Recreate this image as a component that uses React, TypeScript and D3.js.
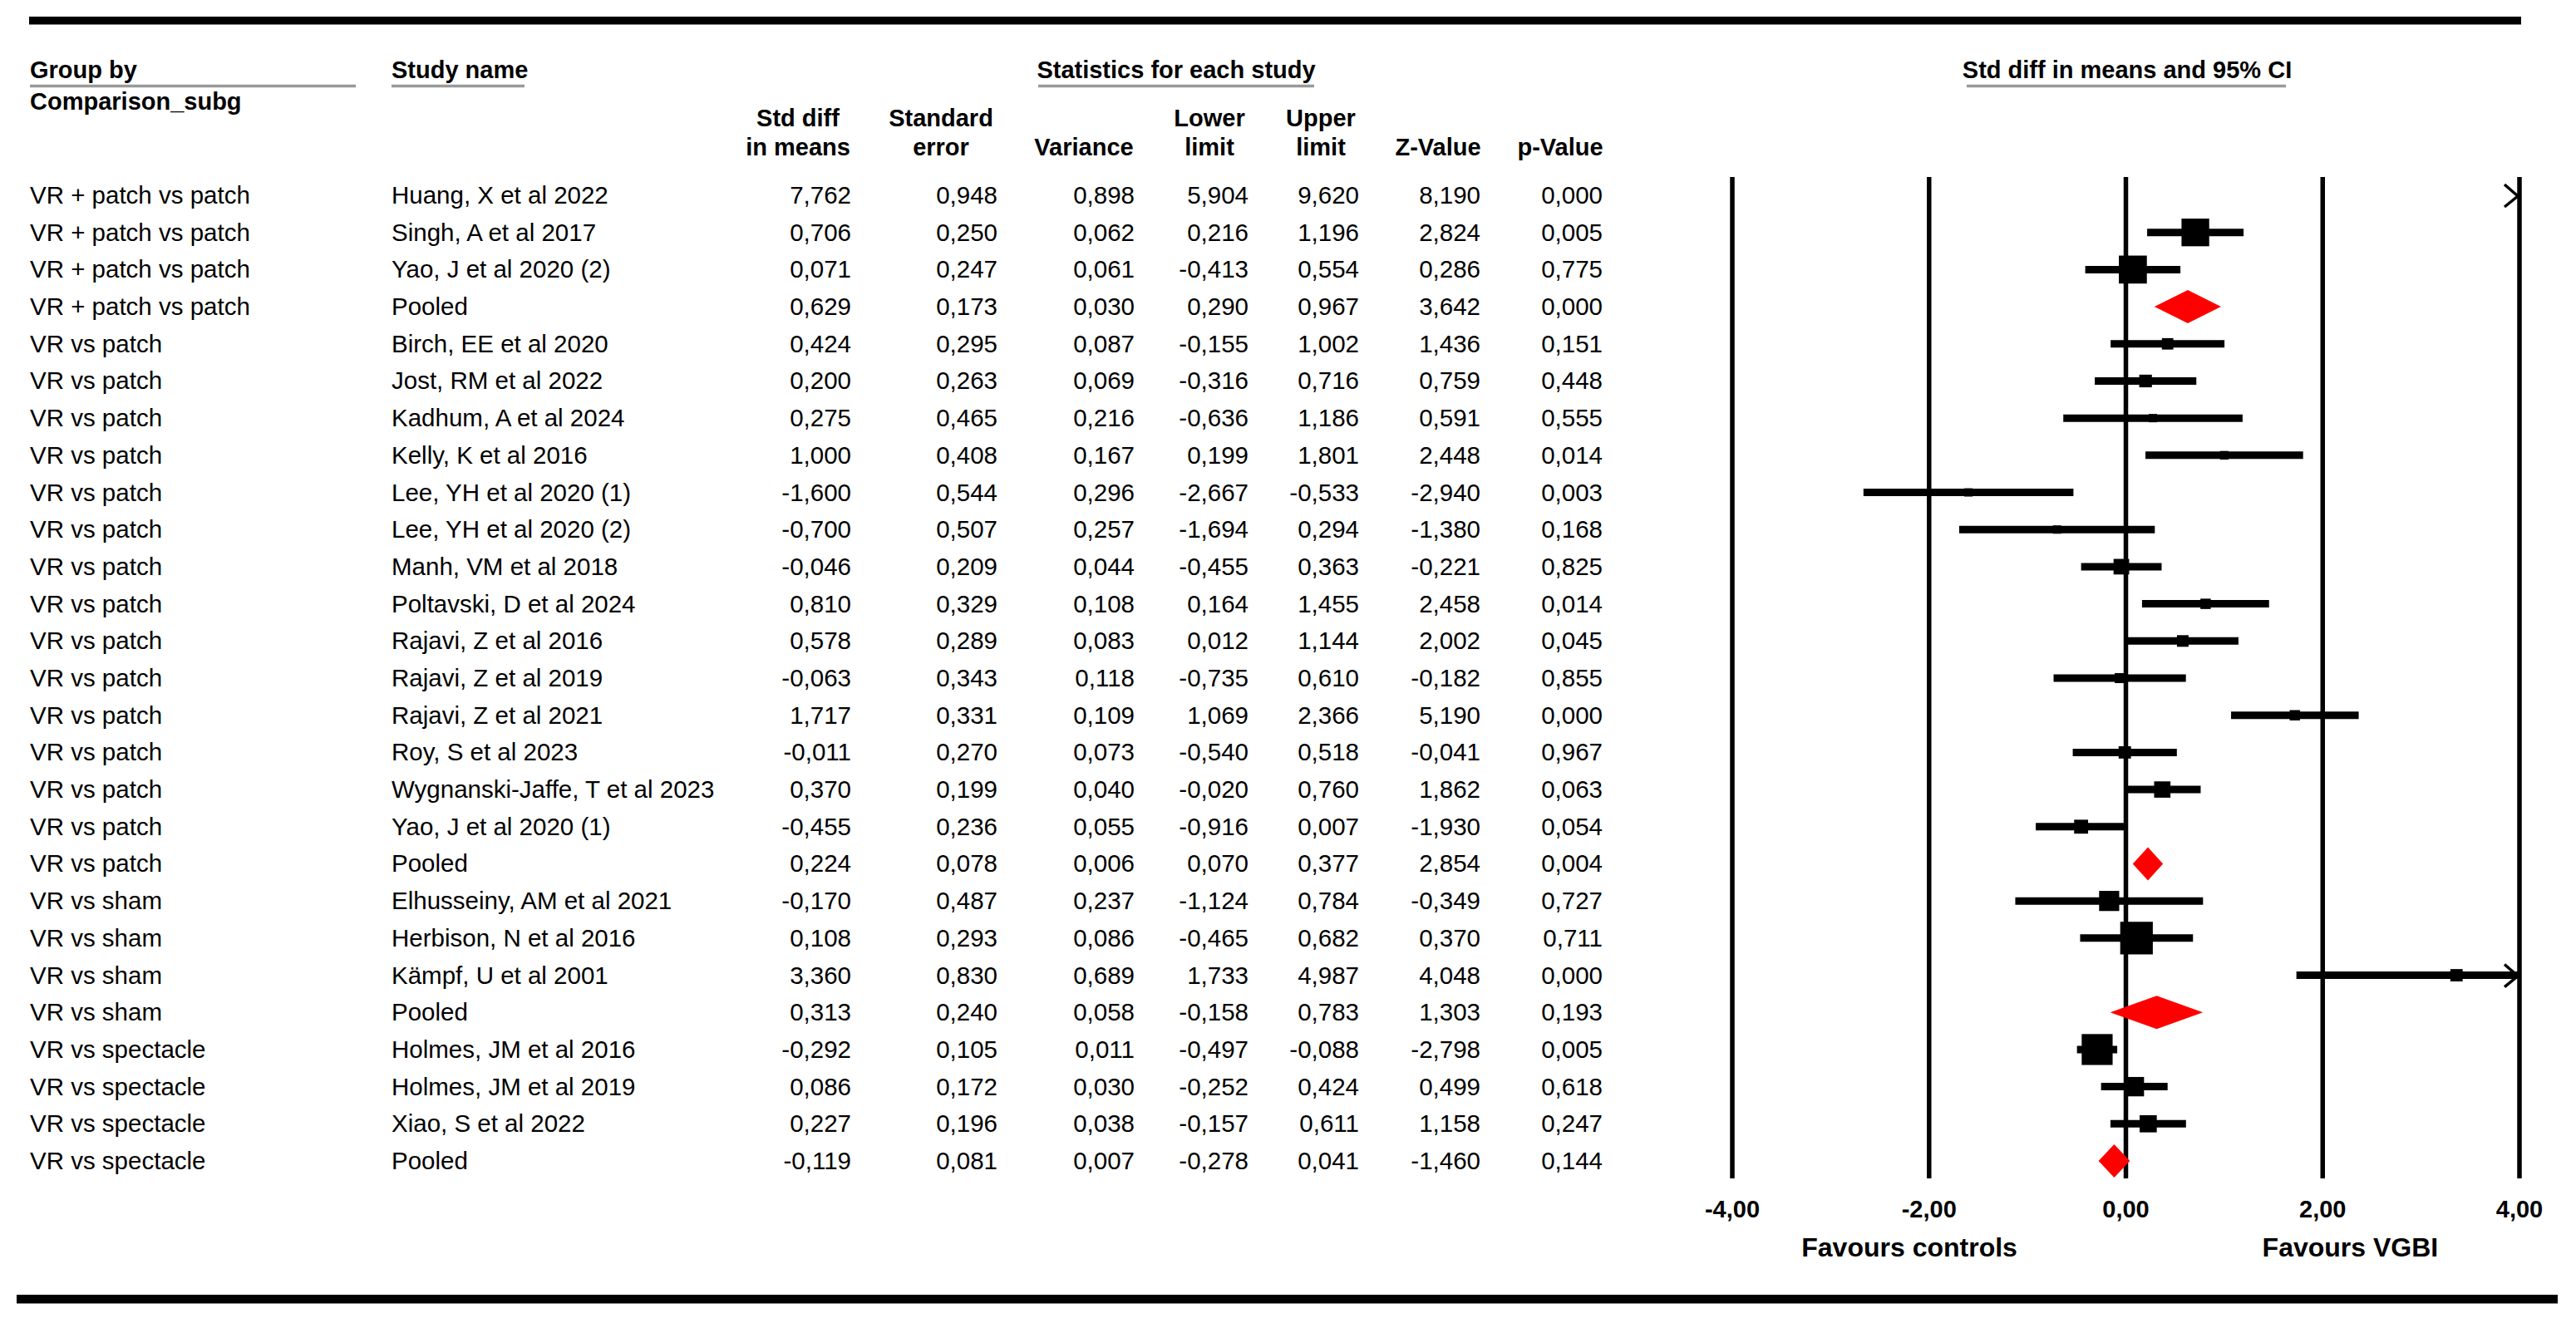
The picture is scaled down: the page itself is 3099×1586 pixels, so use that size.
import { useEffect, useRef } from 'react'
import * as d3 from 'd3'

const groups = [
  'VR + patch vs patch', 'VR + patch vs patch', 'VR + patch vs patch', 'VR + patch vs patch',
  'VR vs patch', 'VR vs patch', 'VR vs patch', 'VR vs patch', 'VR vs patch', 'VR vs patch', 'VR vs patch',
  'VR vs patch', 'VR vs patch', 'VR vs patch', 'VR vs patch', 'VR vs patch', 'VR vs patch', 'VR vs patch', 'VR vs patch',
  'VR vs sham', 'VR vs sham', 'VR vs sham', 'VR vs sham',
  'VR vs spectacle', 'VR vs spectacle', 'VR vs spectacle', 'VR vs spectacle',
]

const studies = [
  'Huang, X et al 2022', 'Singh, A et al 2017', 'Yao, J et al 2020 (2)', 'Pooled',
  'Birch, EE et al 2020', 'Jost, RM et al 2022', 'Kadhum, A et al 2024', 'Kelly, K et al 2016',
  'Lee, YH et al 2020 (1)', 'Lee, YH et al 2020 (2)', 'Manh, VM et al 2018', 'Poltavski, D et al 2024',
  'Rajavi, Z et al 2016', 'Rajavi, Z et al 2019', 'Rajavi, Z et al 2021', 'Roy, S et al 2023',
  'Wygnanski-Jaffe, T et al 2023', 'Yao, J et al 2020 (1)', 'Pooled',
  'Elhusseiny, AM et al 2021', 'Herbison, N et al 2016', 'Kämpf, U et al 2001', 'Pooled',
  'Holmes, JM et al 2016', 'Holmes, JM et al 2019', 'Xiao, S et al 2022', 'Pooled',
]

const stdDiff = [7.762, 0.706, 0.071, 0.629, 0.424, 0.2, 0.275, 1.0, -1.6, -0.7, -0.046, 0.81, 0.578, -0.063, 1.717, -0.011, 0.37, -0.455, 0.224, -0.17, 0.108, 3.36, 0.313, -0.292, 0.086, 0.227, -0.119]
const stdErr = [0.948, 0.25, 0.247, 0.173, 0.295, 0.263, 0.465, 0.408, 0.544, 0.507, 0.209, 0.329, 0.289, 0.343, 0.331, 0.27, 0.199, 0.236, 0.078, 0.487, 0.293, 0.83, 0.24, 0.105, 0.172, 0.196, 0.081]
const variance = [0.898, 0.062, 0.061, 0.03, 0.087, 0.069, 0.216, 0.167, 0.296, 0.257, 0.044, 0.108, 0.083, 0.118, 0.109, 0.073, 0.04, 0.055, 0.006, 0.237, 0.086, 0.689, 0.058, 0.011, 0.03, 0.038, 0.007]
const lower = [5.904, 0.216, -0.413, 0.29, -0.155, -0.316, -0.636, 0.199, -2.667, -1.694, -0.455, 0.164, 0.012, -0.735, 1.069, -0.54, -0.02, -0.916, 0.07, -1.124, -0.465, 1.733, -0.158, -0.497, -0.252, -0.157, -0.278]
const upper = [9.62, 1.196, 0.554, 0.967, 1.002, 0.716, 1.186, 1.801, -0.533, 0.294, 0.363, 1.455, 1.144, 0.61, 2.366, 0.518, 0.76, 0.007, 0.377, 0.784, 0.682, 4.987, 0.783, -0.088, 0.424, 0.611, 0.041]
const zValue = [8.19, 2.824, 0.286, 3.642, 1.436, 0.759, 0.591, 2.448, -2.94, -1.38, -0.221, 2.458, 2.002, -0.182, 5.19, -0.041, 1.862, -1.93, 2.854, -0.349, 0.37, 4.048, 1.303, -2.798, 0.499, 1.158, -1.46]
const pValue = [0.0, 0.005, 0.775, 0.0, 0.151, 0.448, 0.555, 0.014, 0.003, 0.168, 0.825, 0.014, 0.045, 0.855, 0.0, 0.967, 0.063, 0.054, 0.004, 0.727, 0.711, 0.0, 0.193, 0.005, 0.618, 0.247, 0.144]

const headerTop = ['Std diff', 'Standard', '', 'Lower', 'Upper', '', '']
const headerBottom = ['in means', 'error', 'Variance', 'limit', 'limit', 'Z-Value', 'p-Value']
const axisTicks = [-4, -2, 0, 2, 4]

const locale = d3.formatLocale({ decimal: ',', thousands: '.', grouping: [3], currency: ['', ''], minus: '-' })
const f3 = locale.format('.3f')
const f2 = locale.format('.2f')

export default function App() {
  const svgRef = useRef<SVGSVGElement>(null)

  useEffect(() => {
    const svgEl = svgRef.current
    if (!svgEl) return
    const width = 3099
    const height = 1586
    const font = '"Liberation Sans", Arial, sans-serif'

    const svg = d3.select(svgEl)
    svg.attr('width', width).attr('height', height).selectAll('*').remove()

    const idx = d3.range(studies.length)
    const y = d3.scalePoint<number>().domain(idx).range([235, 1397])
    const x = d3.scaleLinear().domain([-4, 4]).range([2084, 3031])
    const [xMin, xMax] = x.domain()

    // inverse-variance weights within each subgroup -> box side
    const groupSum = d3.rollup(
      idx.filter(i => studies[i] !== 'Pooled'),
      v => d3.sum(v, i => 1 / (stdErr[i] * stdErr[i])),
      i => groups[i],
    )
    const box = d3.scaleSqrt().domain([0, 1]).range([0, 46])

    // top / bottom rules
    svg.append('rect').attr('x', 35).attr('y', 20).attr('width', 2998).attr('height', 9.5).attr('fill', '#000')
    svg.append('rect').attr('x', 20).attr('y', 1558).attr('width', 3057).attr('height', 10.5).attr('fill', '#000')

    const txt = (sel: d3.Selection<SVGTextElement, unknown, null, undefined>, size: number, bold: boolean) =>
      sel.style('font-family', font).style('font-size', `${size}px`).style('font-weight', bold ? 'bold' : 'normal').attr('fill', '#000')

    // section headers with grey underlines
    const headers: [string, number, string, number, number][] = [
      ['Group by', 36, 'start', 36, 428],
      ['Study name', 471, 'start', 471, 631],
      ['Statistics for each study', 1415, 'middle', 1249, 1581],
      ['Std diff in means and 95% CI', 2559, 'middle', 2366, 2750],
    ]
    headers.forEach(([label, hx, anchor, u0, u1]) => {
      txt(svg.append('text').attr('x', hx).attr('y', 94).attr('text-anchor', anchor).text(label), 29, true)
      svg.append('line').attr('x1', u0).attr('x2', u1).attr('y1', 103.5).attr('y2', 103.5)
        .attr('stroke', '#999').attr('stroke-width', 3.5)
    })
    txt(svg.append('text').attr('x', 36).attr('y', 132).text('Comparison_subg'), 29, true)

    const colRight = [1024, 1200, 1365, 1502, 1635, 1781, 1928]
    const colCenter = [960, 1132, 1304, 1455, 1589, 1730, 1877]
    colCenter.forEach((cx, k) => {
      if (headerTop[k]) txt(svg.append('text').attr('x', cx).attr('y', 152).attr('text-anchor', 'middle').text(headerTop[k]), 29, true)
      txt(svg.append('text').attr('x', cx).attr('y', 187).attr('text-anchor', 'middle').text(headerBottom[k]), 29, true)
    })

    // table rows
    const cols = [stdDiff, stdErr, variance, lower, upper, zValue, pValue]
    idx.forEach(i => {
      const by = y(i)! + 10
      txt(svg.append('text').attr('x', 36).attr('y', by).text(groups[i]), 29.5, false)
      txt(svg.append('text').attr('x', 471).attr('y', by).text(studies[i]), 29.5, false)
      cols.forEach((arr, k) => {
        txt(svg.append('text').attr('x', colRight[k]).attr('y', by).attr('text-anchor', 'end').text(f3(arr[i])), 29.5, false)
      })
    })

    // vertical grid lines
    svg.append('g').selectAll('line').data(axisTicks).join('line')
      .attr('x1', d => x(d)).attr('x2', d => x(d))
      .attr('y1', 213).attr('y2', 1418)
      .attr('stroke', '#000').attr('stroke-width', 5.5)

    // tick labels
    svg.append('g').selectAll('text').data(axisTicks).join('text')
      .attr('x', d => x(d)).attr('y', 1465).attr('text-anchor', 'middle')
      .style('font-family', font).style('font-size', '29px').style('font-weight', 'bold')
      .text(d => f2(d))

    txt(svg.append('text').attr('x', x(-2.2)).attr('y', 1512).attr('text-anchor', 'middle').text('Favours controls'), 32, true)
    txt(svg.append('text').attr('x', x(2.28)).attr('y', 1512).attr('text-anchor', 'middle').text('Favours VGBI'), 32, true)

    const marks = svg.append('g')
    const arrow = (cy: number) => {
      const ax = x(xMax)
      marks.append('path')
        .attr('d', `M${ax - 18},${cy - 13}L${ax - 2},${cy + 1}L${ax - 18},${cy + 14}`)
        .attr('fill', 'none').attr('stroke', '#000').attr('stroke-width', 3.5)
    }

    idx.forEach(i => {
      const cy = y(i)!
      if (studies[i] === 'Pooled') {
        const pts: [number, number][] = [
          [x(lower[i]), cy], [x(stdDiff[i]), cy - 20], [x(upper[i]), cy], [x(stdDiff[i]), cy + 20],
        ]
        marks.append('path').attr('d', d3.line()(pts) + 'Z').attr('fill', '#ff0000')
        return
      }
      const lo = Math.max(lower[i], xMin)
      const hi = Math.min(upper[i], xMax)
      if (lo < hi) {
        marks.append('line').attr('x1', x(lo)).attr('x2', x(hi)).attr('y1', cy).attr('y2', cy)
          .attr('stroke', '#000').attr('stroke-width', 9)
      }
      if (upper[i] > xMax) arrow(cy)
      if (stdDiff[i] >= xMin && stdDiff[i] <= xMax) {
        const w = (1 / (stdErr[i] * stdErr[i])) / groupSum.get(groups[i])!
        const s = Math.max(10, box(w) + 1.5)
        marks.append('rect').attr('x', x(stdDiff[i]) - s / 2).attr('y', cy - s / 2)
          .attr('width', s).attr('height', s).attr('fill', '#000')
      }
    })
  }, [])

  return (
    <>
      <style>{'body{margin:0;background:#fff}'}</style>
      <svg ref={svgRef} style={{ display: 'block' }} />
    </>
  )
}
